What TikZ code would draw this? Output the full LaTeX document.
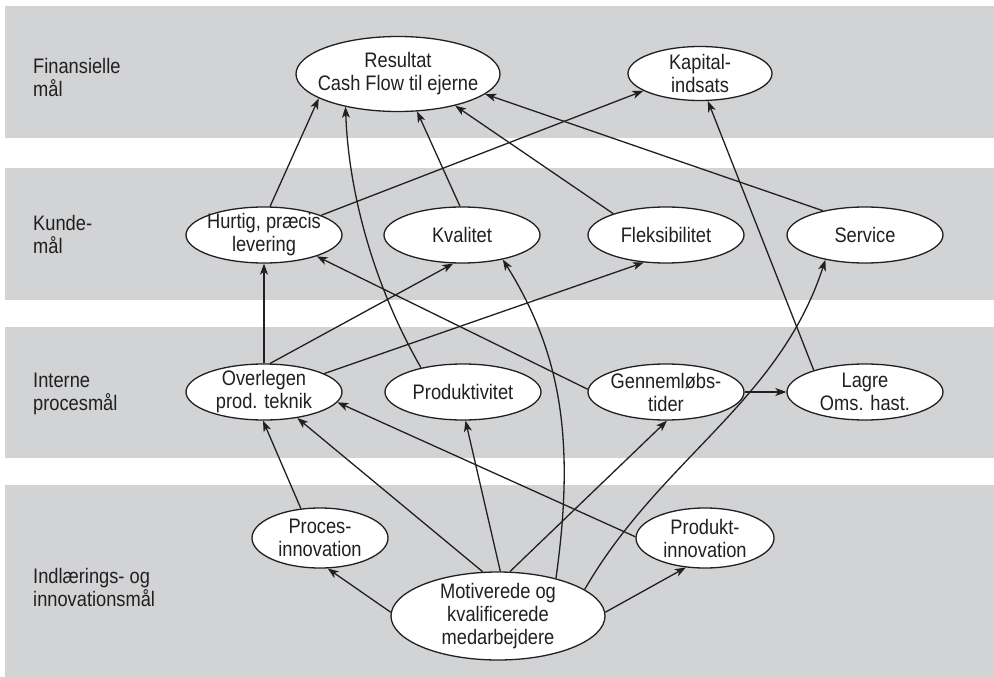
\documentclass[tikz,border=0pt]{standalone}
\usepackage{fontspec}
\setmainfont{Liberation Sans}[FakeStretch=0.87]
\usetikzlibrary{arrows.meta,shapes.geometric}
\definecolor{bandgrey}{HTML}{D1D3D4}
\definecolor{ink}{HTML}{231F20}
\begin{document}
\begin{tikzpicture}[x=1pt,y=-1pt,
  oval/.style={ellipse, draw=ink, line width=1.3pt, fill=white, inner sep=0pt},
  small/.style={oval, minimum width=156pt, minimum height=56pt},
  txt/.style={font=\fontsize{21}{23}\selectfont, text=ink, align=center, inner sep=0pt},
  side/.style={font=\fontsize{21}{23}\selectfont, text=ink, align=left, inner sep=0pt, anchor=west},
  link/.style={draw=ink, line width=1.3pt, -{Stealth[length=11pt,width=8pt,inset=3pt]}},
]
\useasboundingbox (0,0) rectangle (994,677);

% grey bands, one per perspective
\fill[bandgrey] (5,6)   rectangle (994,138);
\fill[bandgrey] (5,168) rectangle (994,300);
\fill[bandgrey] (5,327) rectangle (994,458);
\fill[bandgrey] (5,485) rectangle (994,677);

% row titles
\node[side] (t1) at (33,77)  {Finansielle\\mål};
\node[side] (t2) at (33,234) {Kunde-\\mål};
\node[side] (t3) at (33,394) {Interne\\procesmål};
\node[side] (t4) at (33,587) {Indlærings- og\\innovationsmål};

% financial goals
\node[oval, minimum width=204pt, minimum height=75pt,
      label={[txt]center:{Resultat\\Cash Flow til ejerne}}] (res) at (398,74) {};
\node[oval, minimum width=144pt, minimum height=54pt,
      label={[txt]center:{Kapital-\\indsats}}] (kap) at (700,73.5) {};

% customer goals
\node[small, label={[txt]center:{Hurtig, præcis\\levering}}] (hur) at (264,235) {};
\node[small, label={[txt]center:{Kvalitet}}] (kva) at (462,235) {};
\node[small, label={[txt]center:{Fleksibilitet}}] (fle) at (666,235) {};
\node[small, label={[txt]center:{Service}}] (ser) at (865,235) {};

% internal process goals
\node[small, label={[txt]center:{Overlegen\\prod. teknik}}] (ove) at (264,392) {};
\node[small, label={[txt]center:{Produktivitet}}] (pro) at (463,392) {};
\node[small, label={[txt]center:{Gennemløbs-\\tider}}] (gen) at (666,392) {};
\node[small, label={[txt]center:{Lagre\\Oms. hast.}}] (lag) at (865,392) {};

% learning and innovation goals
\node[oval, minimum width=136pt, minimum height=60pt,
      label={[txt]center:{Proces-\\innovation}}] (pci) at (320,538) {};
\node[oval, minimum width=138pt, minimum height=60pt,
      label={[txt]center:{Produkt-\\innovation}}] (pdi) at (705,538) {};
\node[oval, minimum width=214pt, minimum height=88pt,
      label={[txt]center:{Motiverede og\\kvalificerede\\medarbejdere}}] (mot) at (498,616) {};

% links into the financial goals
\draw[link] (hur.78) -- (res.197);
\draw[link] (pro.150) .. controls +(120:90pt) and +(-88:90pt) .. (res.212);
\draw[link] (kva.94) -- (res.297);
\draw[link] (fle.158) -- (res.331);
\draw[link] (ser.150) -- (res.347);
\draw[link] (hur.19) -- (kap.197);
\draw[link] (lag.157) -- (kap.286);

% links into the customer goals
\draw[link] (ove.90) -- (hur.270);
\draw[link] (ove.78) -- (kva.253);
\draw[link] (ove.17) -- (fle.231);
\draw[link] (gen.178) -- (hur.338);
\draw[link] (mot.33) .. controls +(82:140pt) and +(302:110pt) .. (kva.329);
\draw[link] (mot.17) .. controls +(60:150pt) and +(252:150pt) .. (ser.212);

% links into the internal process goals
\draw[link] (gen.0) -- (lag.180);
\draw[link] (mot.75) -- (gen.272);
\draw[link] (mot.87) -- (pro.275);
\draw[link] (mot.109) -- (ove.322);
\draw[link] (pci.123) -- (ove.268);
\draw[link] (pdi.179) -- (ove.352);

% links into the innovation goals
\draw[link] (mot.178) -- (pci.284);
\draw[link] (mot.2) -- (pdi.237);
\end{tikzpicture}
\end{document}
